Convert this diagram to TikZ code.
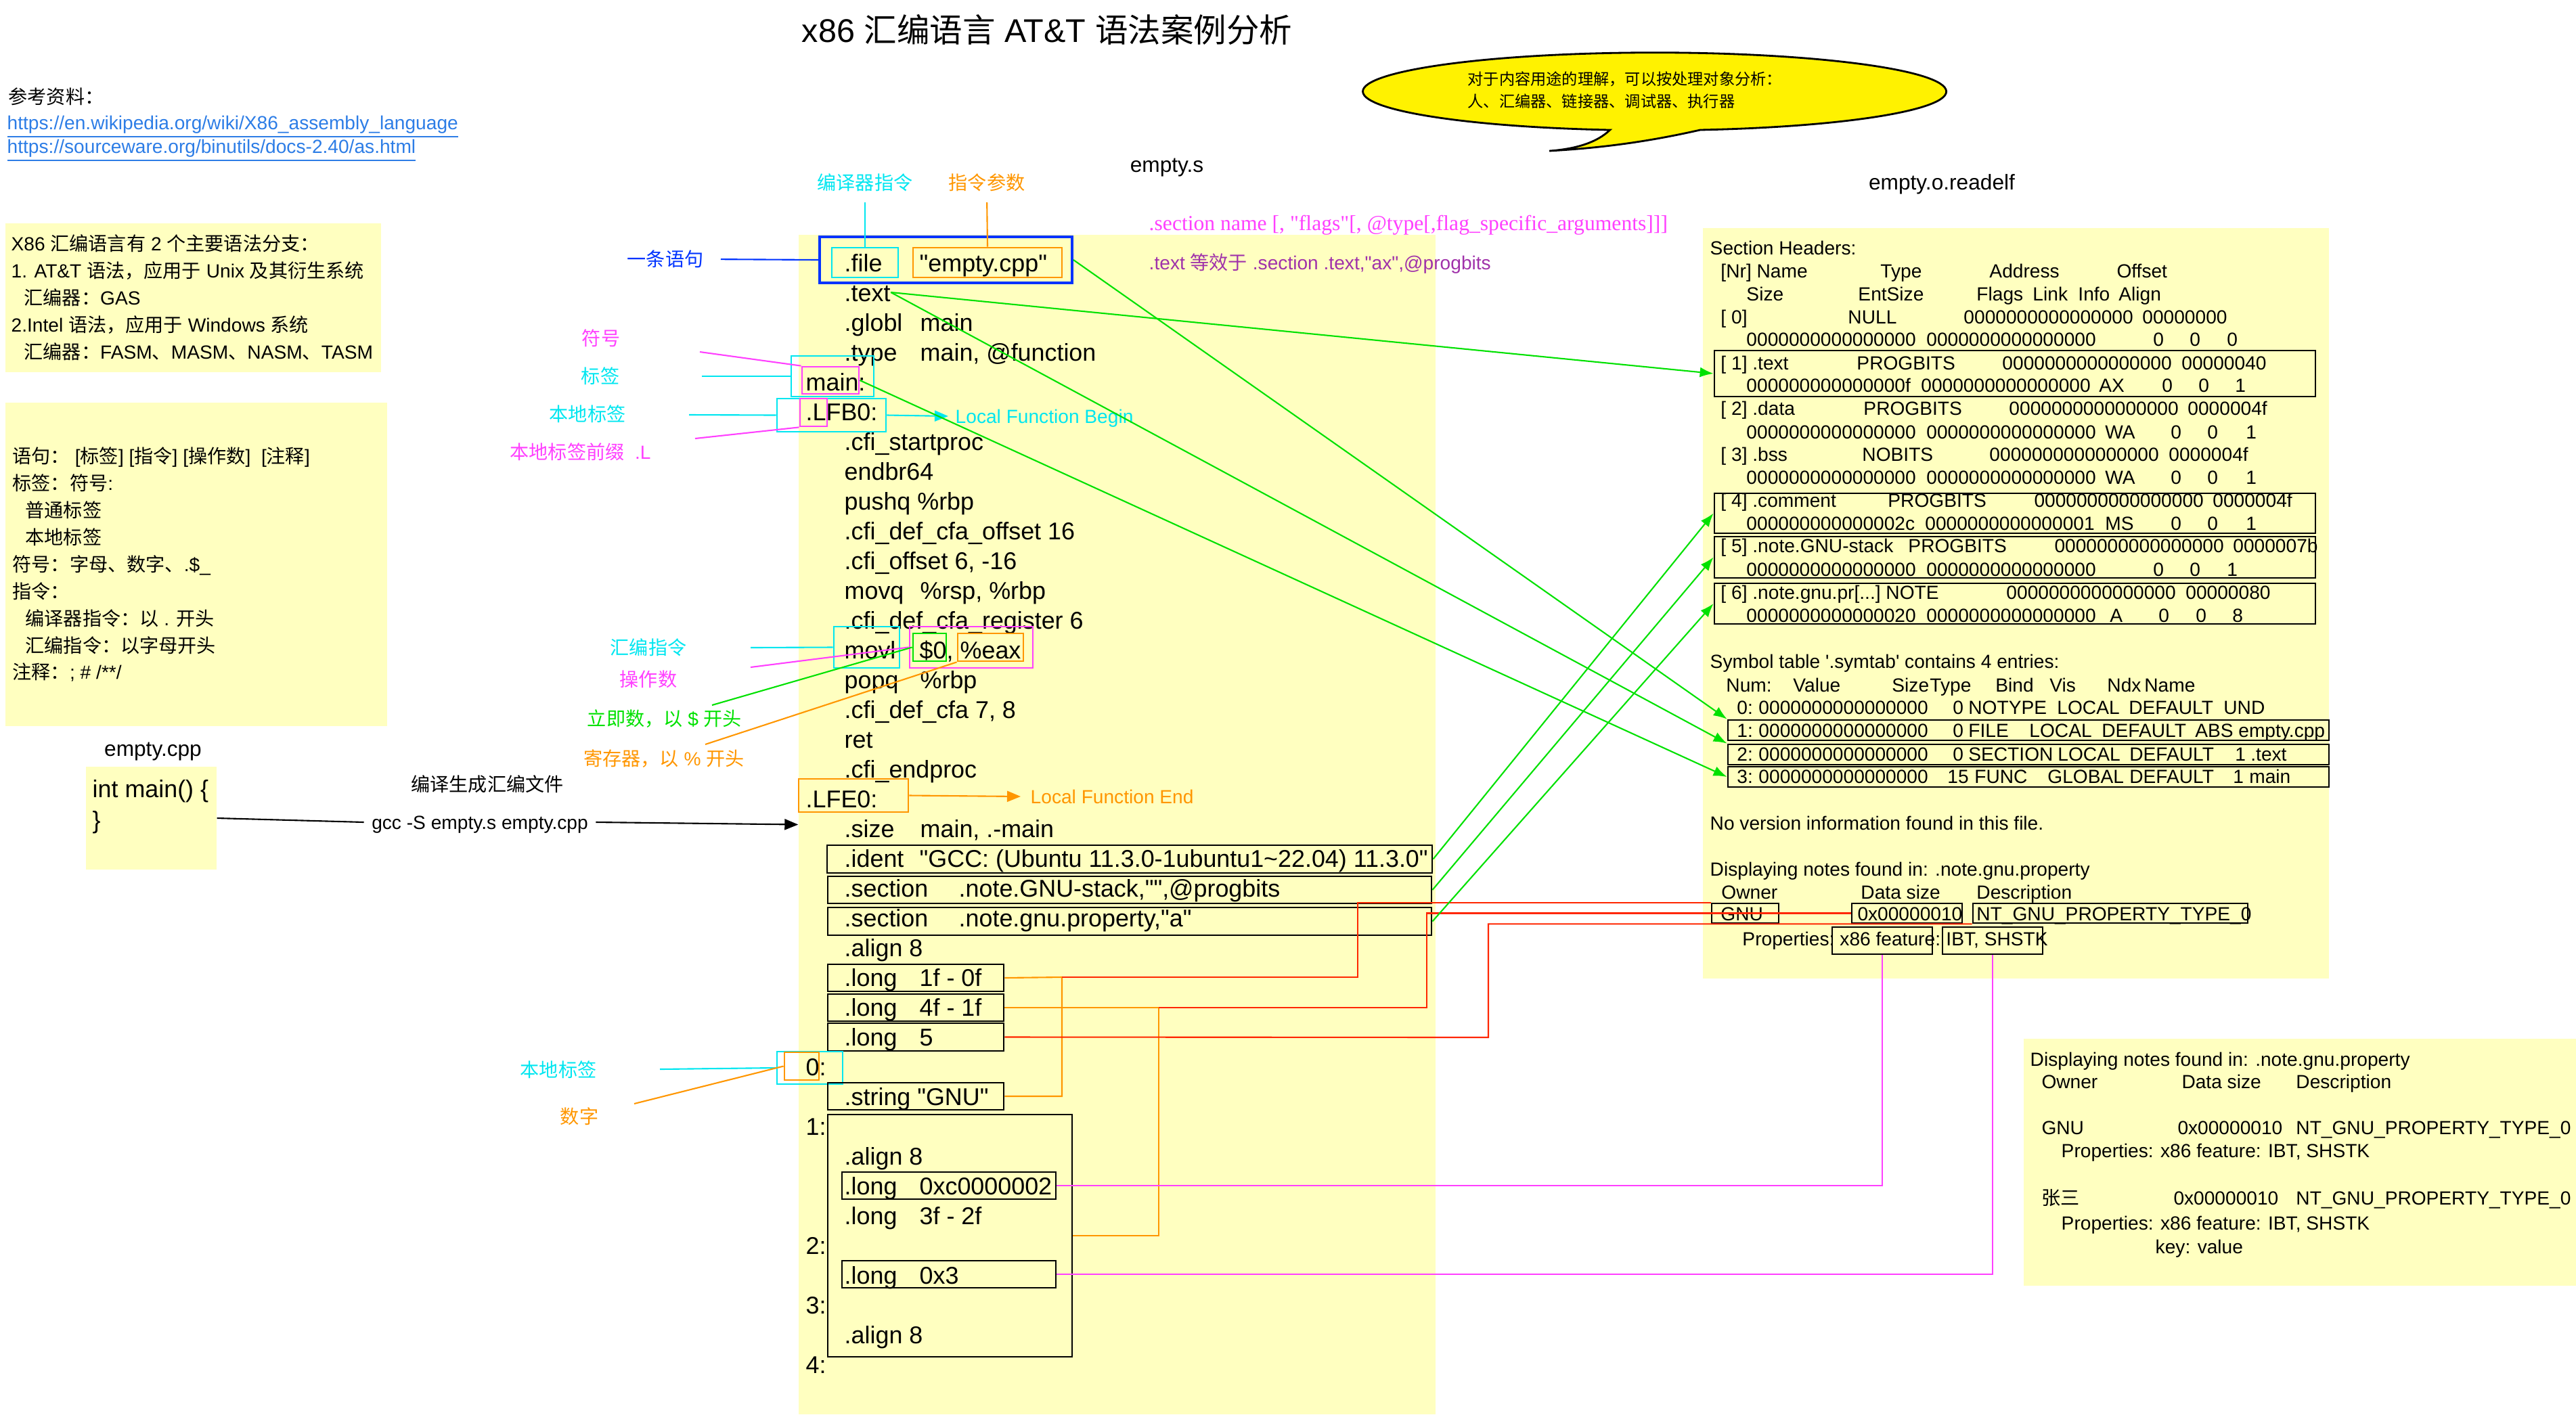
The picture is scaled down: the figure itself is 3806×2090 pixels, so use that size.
\documentclass[tikz,border=0pt]{standalone}
\usepackage{fontspec}
\setmainfont{Liberation Sans}[Ligatures=TeXOff]
\newfontfamily\cjkfont{Noto Sans CJK SC}[Ligatures=TeXOff]
\newfontfamily\seriffont{Liberation Serif}[Ligatures=TeXOff]
\usetikzlibrary{arrows.meta}
\usetikzlibrary{fit}

\XeTeXinterchartokenstate=1
\newcount\cjkcnt
\newcommand\cjkrange[2]{%
  \cjkcnt=#1\relax
  \loop
    \XeTeXcharclass\cjkcnt=7\relax
    \advance\cjkcnt by 1\relax
  \ifnum\cjkcnt<#2\relax
  \repeat}
\cjkrange{"3000}{"3040}
\cjkrange{"4E00}{"A000}
\cjkrange{"FF00}{"FF60}
\XeTeXinterchartoks 0 7 = {\begingroup\cjkfont}
\XeTeXinterchartoks 4095 7 = {\begingroup\cjkfont}
\XeTeXinterchartoks 7 0 = {\endgroup}
\XeTeXinterchartoks 7 4095 = {\endgroup}

\definecolor{cyanc}{RGB}{0,230,240}
\definecolor{magc}{RGB}{255,64,255}
\definecolor{greenc}{RGB}{0,225,0}
\definecolor{orangec}{RGB}{255,150,0}
\definecolor{bluec}{RGB}{0,51,255}
\definecolor{redc}{RGB}{255,38,0}
\definecolor{purplec}{RGB}{160,50,170}
\definecolor{linkc}{RGB}{45,125,230}
\definecolor{notey}{RGB}{255,255,192}

\newdimen\pxu
\pxu=0.01cm
\newcommand\colat[2]{\makebox[0pt][l]{\hspace*{#1\pxu}#2}}

\tikzset{
  t6/.style={inner sep=0pt, anchor=west, font=\fontsize{6.6}{8}\selectfont, text height=5.9pt, text depth=1.2pt},
  t8/.style={inner sep=0pt, font=\fontsize{8}{9.6}\selectfont, text height=7.2pt, text depth=1.4pt},
  t9/.style={inner sep=0pt, font=\fontsize{9}{10.8}\selectfont, text height=8.1pt, text depth=1.6pt},
  code/.style={anchor=west, inner sep=0pt, font=\fontsize{10.2}{12}\selectfont, text height=9.2pt, text depth=1.8pt},
  rd/.style={t8, anchor=west},
  notebg/.style={fill=notey, draw=none, inner sep=0pt},
  cbox/.style={draw, inner sep=0pt, line width=0.8pt},
  conn/.style={line width=0.6pt},
  garrow/.style={conn, greenc, -{Latex[length=0.2cm, width=0.15cm]}},
  tarrow/.style={conn, -{Triangle[length=0.2cm, width=0.16cm]}}
}

\begin{document}
\begin{tikzpicture}[x=0.01cm, y=-0.01cm]
    \useasboundingbox (0,0) rectangle (3806,2090);

    \node[notebg, fit={(8,330) (563,550)}] (introbox) {};
    \node[notebg, fit={(8,595) (572,1073)}] (synbox) {};
    \node[notebg, fit={(127,1133) (320,1285)}] (cppbox) {};
    \node[notebg, fit={(1180,347) (2121,2090)}] (codebox) {};
    \node[notebg, fit={(2516,337) (3441,1446)}] (elfbox) {};
    \node[notebg, fit={(2990,1535) (3806,1900)}] (notebox) {};

    \node[font=\fontsize{13.8}{16}\selectfont, inner sep=0pt] (title) at (1547,44) {x86 汇编语言 AT\&T 语法案例分析};

    \draw[fill=yellow, line width=0.8pt] (2512,192) arc[start angle=81, end angle=-261.2, x radius=431, y radius=57.5]
        .. controls (2360,210) and (2330,220) .. (2289,223)
        .. controls (2380,218) and (2450,206) .. (2512,192) -- cycle;
    \node[t6] (call1) at (2168,117) {对于内容用途的理解，可以按处理对象分析：};
    \node[t6] (call2) at (2168,150) {人、汇编器、链接器、调试器、执行器};

    \node[rd] (refhead) at (12,143) {参考资料：};
    \node[rd, text=linkc] (ref1) at (10,181) {\underline{https://en.wikipedia.org/wiki/X86\_assembly\_language}};
    \node[rd, text=linkc] (ref2) at (10,216) {\underline{https://sourceware.org/binutils/docs-2.40/as.html}};

    \node[rd] (intro1) at (16,360) {X86 汇编语言有 2 个主要语法分支：};
    \node[rd] (intro2) at (16,400) {1. AT\&T 语法，应用于 Unix 及其衍生系统};
    \node[rd] (intro3) at (35,440) {汇编器：GAS};
    \node[rd] (intro4) at (16,480) {2.Intel 语法，应用于 Windows 系统};
    \node[rd] (intro5) at (35,520) {汇编器：FASM、MASM、NASM、TASM};

    \node[rd] (syn1) at (18,674) {语句： [标签] [指令] [操作数]\ \ [注释]};
    \node[rd] (syn2) at (18,714) {标签：符号:};
    \node[rd] (syn3) at (37,754) {普通标签};
    \node[rd] (syn4) at (37,794) {本地标签};
    \node[rd] (syn5) at (18,834) {符号：字母、数字、.\$\_};
    \node[rd] (syn6) at (18,874) {指令：};
    \node[rd] (syn7) at (37,914) {编译器指令：以 . 开头};
    \node[rd] (syn8) at (37,954) {汇编指令：以字母开头};
    \node[rd] (syn9) at (18,993) {注释：; \# /**/};

    \node[t9] (cppname) at (226,1106) {empty.cpp};
    \node[code] (cpp1) at (136,1165) {int main() \{};
    \node[code] (cpp2) at (136,1211) {\}};
    \node[t8] (gen) at (720,1159) {编译生成汇编文件};
    \node[t8, inner sep=0.11cm] (gcc) at (709,1215) {gcc -S empty.s empty.cpp};

    \node[t9] (sname) at (1724,243) {empty.s};
    \node[t9] (ename) at (2869,269) {empty.o.readelf};

    \node[t8, text=cyanc] (dirlbl) at (1278,270) {编译器指令};
    \node[t8, text=orangec] (arglbl) at (1458,270) {指令参数};
    \node[t8, text=bluec] (stmtlbl) at (983,383) {一条语句};
    \node[rd, text=magc, font=\seriffont\fontsize{9}{10.8}\selectfont] (secsyn) at (1697,330) {.section name [, "flags"[, @type[,flag\_specific\_arguments]]]};
    \node[rd, text=purplec] (texteq) at (1697,388) {.text 等效于 .section .text,"ax",@progbits};

    \node[t8, text=magc] (symlbl) at (888,500) {符号};
    \node[t8, text=cyanc] (lbllbl) at (887,556) {标签};
    \node[t8, text=cyanc] (loclbl) at (868,612) {本地标签};
    \node[rd, text=magc] (prelbl) at (753,668) {本地标签前缀\ \ .L};
    \node[t8, text=cyanc] (asmlbl) at (958,957) {汇编指令};
    \node[t8, text=magc] (oplbl) at (958,1004) {操作数};
    \node[t8, text=greenc] (immlbl) at (982,1062) {立即数，以 \$ 开头};
    \node[t8, text=orangec] (reglbl) at (981,1121) {寄存器，以 \% 开头};
    \node[t8, text=cyanc] (loc2lbl) at (825,1581) {本地标签};
    \node[t8, text=orangec] (numlbl) at (856,1650) {数字};

    \node[code] (c0) at (1247,388) {.file};
    \node[code] (c0b) at (1358,388) {"empty.cpp"};
    \node[code] (c1) at (1247,432) {.text};
    \node[code] (c2) at (1247,476) {.globl};
    \node[code] (c2b) at (1359,476) {main};
    \node[code] (c3) at (1247,520) {.type};
    \node[code] (c3b) at (1359,520) {main, @function};
    \node[code] (c4) at (1190,564) {main:};
    \node[code] (c5) at (1190,608) {.LFB0:};
    \node[code] (c6) at (1247,652) {.cfi\_startproc};
    \node[code] (c7) at (1247,696) {endbr64};
    \node[code] (c8) at (1247,740) {pushq \%rbp};
    \node[code] (c9) at (1247,784) {.cfi\_def\_cfa\_offset 16};
    \node[code] (c10) at (1247,828) {.cfi\_offset 6, -16};
    \node[code] (c11) at (1247,872) {movq};
    \node[code] (c11b) at (1359,872) {\%rsp, \%rbp};
    \node[code] (c12) at (1247,916) {.cfi\_def\_cfa\_register 6};
    \node[code] (c13) at (1247,960) {movl};
    \node[code] (c13b) at (1358,960) {\$0,};
    \node[code] (c13c) at (1418,960) {\%eax};
    \node[code] (c14) at (1247,1004) {popq};
    \node[code] (c14b) at (1359,1004) {\%rbp};
    \node[code] (c15) at (1247,1048) {.cfi\_def\_cfa 7, 8};
    \node[code] (c16) at (1247,1092) {ret};
    \node[code] (c17) at (1247,1136) {.cfi\_endproc};
    \node[code] (c18) at (1190,1180) {.LFE0:};
    \node[code] (c19) at (1247,1224) {.size};
    \node[code] (c19b) at (1359,1224) {main, .-main};
    \node[code] (c20) at (1247,1268) {.ident};
    \node[code] (c20b) at (1358,1268) {"GCC: (Ubuntu 11.3.0-1ubuntu1\textasciitilde 22.04) 11.3.0"};
    \node[code] (c21) at (1247,1312) {.section};
    \node[code] (c21b) at (1416,1312) {.note.GNU-stack,"",@progbits};
    \node[code] (c22) at (1247,1356) {.section};
    \node[code] (c22b) at (1416,1356) {.note.gnu.property,"a"};
    \node[code] (c23) at (1247,1400) {.align 8};
    \node[code] (c24) at (1247,1444) {.long};
    \node[code] (c24b) at (1358,1444) {1f - 0f};
    \node[code] (c25) at (1247,1488) {.long};
    \node[code] (c25b) at (1358,1488) {4f - 1f};
    \node[code] (c26) at (1247,1532) {.long};
    \node[code] (c26b) at (1358,1532) {5};
    \node[code] (c27) at (1190,1576) {0:};
    \node[code] (c28) at (1247,1620) {.string "GNU"};
    \node[code] (c29) at (1190,1664) {1:};
    \node[code] (c30) at (1247,1708) {.align 8};
    \node[code] (c31) at (1247,1752) {.long};
    \node[code] (c31b) at (1358,1752) {0xc0000002};
    \node[code] (c32) at (1247,1796) {.long};
    \node[code] (c32b) at (1358,1796) {3f - 2f};
    \node[code] (c33) at (1190,1840) {2:};
    \node[code] (c34) at (1247,1884) {.long};
    \node[code] (c34b) at (1358,1884) {0x3};
    \node[code] (c35) at (1190,1928) {3:};
    \node[code] (c36) at (1247,1972) {.align 8};
    \node[code] (c37) at (1190,2016) {4:};

    \node[cbox, draw=bluec, line width=1.1pt, fit={(1211,350) (1584,418)}] (bluebox) {};
    \node[cbox, draw=cyanc, fit={(1229,366) (1327,410)}] (filebox) {};
    \node[cbox, draw=orangec, fit={(1349,366) (1569,410)}] (argbox) {};
    \node[cbox, draw=cyanc, fit={(1169,526) (1291,586)}] (maincyan) {};
    \node[cbox, draw=magc, fit={(1185,542) (1269,582)}] (mainpink) {};
    \node[cbox, draw=cyanc, fit={(1148,589) (1309,638)}] (lfbcyan) {};
    \node[cbox, draw=magc, fit={(1182,589) (1222,630)}] (lpink) {};
    \node[cbox, draw=cyanc, fit={(1232,926) (1329,987)}] (movlbox) {};
    \node[cbox, draw=magc, fit={(1344,926) (1526,987)}] (opbox) {};
    \node[cbox, draw=greenc, fit={(1349,936) (1398,977)}] (immbox) {};
    \node[cbox, draw=orangec, fit={(1415,936) (1512,977)}] (regbox) {};
    \node[cbox, draw=orangec, fit={(1180,1151) (1342,1200)}] (lfebox) {};
    \node[cbox, fit={(1222,1249) (2116,1290)}] (identbox) {};
    \node[cbox, fit={(1223,1295) (2115,1335)}] (sec21box) {};
    \node[cbox, fit={(1223,1341) (2115,1382)}] (sec22box) {};
    \node[cbox, fit={(1223,1425) (1483,1465)}] (long1box) {};
    \node[cbox, fit={(1223,1469) (1483,1509)}] (long2box) {};
    \node[cbox, fit={(1223,1512) (1483,1553)}] (long3box) {};
    \node[cbox, draw=cyanc, fit={(1148,1554) (1245,1602)}] (zerocyan) {};
    \node[cbox, draw=orangec, fit={(1159,1555) (1210,1596)}] (zeroorange) {};
    \node[cbox, fit={(1223,1600) (1483,1640)}] (strbox) {};
    \node[cbox, fit={(1223,1647) (1584,2005)}] (descbox) {};
    \node[cbox, fit={(1244,1732) (1560,1772)}] (prop1box) {};
    \node[cbox, fit={(1244,1863) (1560,1903)}] (prop2box) {};

    \node[t8, text=cyanc, anchor=west, inner xsep=0.1cm] (lfbtxt) at (1401,615) {Local Function Begin};
    \node[t8, text=orangec, anchor=west, inner xsep=0.14cm] (lfetxt) at (1508,1177) {Local Function End};

    \node[rd] (sh) at (2526,366) {Section Headers:};
    \node[rd] (shh1) at (2540,400) {\colat{0}{[Nr] Name}\colat{236}{Type}\colat{397}{Address}\colat{585}{Offset}};
    \node[rd] (shh2) at (2578,434) {\colat{0}{Size}\colat{165}{EntSize}\colat{340}{Flags}\colat{423}{Link}\colat{490}{Info}\colat{550}{Align}};
    \node[rd] (sh0a) at (2540,468) {\colat{0}{[ 0]}\colat{188}{NULL}\colat{359}{0000000000000000}\colat{623}{00000000}};
    \node[rd] (sh0b) at (2578,501) {\colat{0}{0000000000000000}\colat{266}{0000000000000000}\colat{601}{0}\colat{655}{0}\colat{710}{0}};
    \node[rd] (sh1a) at (2540,536) {\colat{0}{[ 1] .text}\colat{201}{PROGBITS}\colat{416}{0000000000000000}\colat{681}{00000040}};
    \node[rd] (sh1b) at (2578,569) {\colat{0}{000000000000000f}\colat{258}{0000000000000000}\colat{521}{AX}\colat{614}{0}\colat{668}{0}\colat{722}{1}};
    \node[rd] (sh2a) at (2540,603) {\colat{0}{[ 2] .data}\colat{211}{PROGBITS}\colat{426}{0000000000000000}\colat{690}{0000004f}};
    \node[rd] (sh2b) at (2578,638) {\colat{0}{0000000000000000}\colat{266}{0000000000000000}\colat{530}{WA}\colat{627}{0}\colat{681}{0}\colat{738}{1}};
    \node[rd] (sh3a) at (2540,671) {\colat{0}{[ 3] .bss}\colat{209}{NOBITS}\colat{397}{0000000000000000}\colat{662}{0000004f}};
    \node[rd] (sh3b) at (2578,705) {\colat{0}{0000000000000000}\colat{266}{0000000000000000}\colat{530}{WA}\colat{627}{0}\colat{681}{0}\colat{738}{1}};
    \node[rd] (sh4a) at (2540,739) {\colat{0}{[ 4] .comment}\colat{247}{PROGBITS}\colat{463}{0000000000000000}\colat{727}{0000004f}};
    \node[rd] (sh4b) at (2578,773) {\colat{0}{000000000000002c}\colat{264}{0000000000000001}\colat{530}{MS}\colat{627}{0}\colat{681}{0}\colat{738}{1}};
    \node[rd] (sh5a) at (2540,806) {\colat{0}{[ 5] .note.GNU-stack}\colat{277}{PROGBITS}\colat{493}{0000000000000000}\colat{757}{0000007b}};
    \node[rd] (sh5b) at (2578,841) {\colat{0}{0000000000000000}\colat{266}{0000000000000000}\colat{601}{0}\colat{655}{0}\colat{710}{1}};
    \node[rd] (sh6a) at (2540,875) {\colat{0}{[ 6] .note.gnu.pr[...]}\colat{244}{NOTE}\colat{422}{0000000000000000}\colat{687}{00000080}};
    \node[rd] (sh6b) at (2578,909) {\colat{0}{0000000000000020}\colat{266}{0000000000000000}\colat{537}{A}\colat{609}{0}\colat{664}{0}\colat{718}{8}};

    \node[rd] (st) at (2526,977) {Symbol table \textquotesingle.symtab\textquotesingle{} contains 4 entries:};
    \node[rd] (sth) at (2548,1012) {\colat{0}{Num:}\colat{99}{Value}\colat{245}{Size}\colat{301}{Type}\colat{398}{Bind}\colat{478}{Vis}\colat{563}{Ndx}\colat{618}{Name}};
    \node[rd] (st0) at (2564,1045) {\colat{0}{0:}\colat{32}{0000000000000000}\colat{319}{0}\colat{342}{NOTYPE}\colat{473}{LOCAL}\colat{579}{DEFAULT}\colat{719}{UND}};
    \node[rd] (st1) at (2564,1079) {\colat{0}{1:}\colat{32}{0000000000000000}\colat{319}{0}\colat{342}{FILE}\colat{432}{LOCAL}\colat{539}{DEFAULT}\colat{677}{ABS}\colat{741}{empty.cpp}};
    \node[rd] (st2) at (2564,1114) {\colat{0}{2:}\colat{32}{0000000000000000}\colat{319}{0}\colat{342}{SECTION}\colat{474}{LOCAL}\colat{580}{DEFAULT}\colat{736}{1}\colat{759}{.text}};
    \node[rd] (st3) at (2564,1147) {\colat{0}{3:}\colat{32}{0000000000000000}\colat{311}{15}\colat{351}{FUNC}\colat{459}{GLOBAL}\colat{580}{DEFAULT}\colat{733}{1}\colat{757}{main}};

    \node[rd] (nover) at (2526,1216) {No version information found in this file.};
    \node[rd] (disp) at (2526,1284) {Displaying notes found in: .note.gnu.property};
    \node[rd] (noteh) at (2541,1318) {\colat{0}{Owner}\colat{206}{Data size}\colat{377}{Description}};
    \node[rd] (note1) at (2540,1350) {\colat{0}{GNU}\colat{202}{0x00000010}\colat{378}{NT\_GNU\_PROPERTY\_TYPE\_0}};
    \node[rd] (prop) at (2572,1387) {\colat{0}{Properties:}\colat{144}{x86 feature}\colat{285}{:}\colat{301}{IBT, SHSTK}};

    \node[cbox, fit={(2533,518) (3421,586)}] (sec1box) {};
    \node[cbox, fit={(2533,729) (3421,788)}] (sec4box) {};
    \node[cbox, fit={(2533,793) (3421,854)}] (sec5box) {};
    \node[cbox, fit={(2533,862) (3421,922)}] (sec6box) {};
    \node[cbox, fit={(2553,1064) (3441,1094)}] (sym1box) {};
    \node[cbox, fit={(2553,1100) (3441,1130)}] (sym2box) {};
    \node[cbox, fit={(2553,1133) (3441,1163)}] (sym3box) {};
    \node[cbox, fit={(2529,1335) (2628,1364)}] (gnubox) {};
    \node[cbox, fit={(2736,1335) (2899,1364)}] (szbox) {};
    \node[cbox, fit={(2915,1335) (3321,1364)}] (ntbox) {};
    \node[cbox, fit={(2707,1370) (2855,1410)}] (featbox) {};
    \node[cbox, fit={(2870,1370) (3018,1410)}] (ibtbox) {};

    \node[rd] (n2disp) at (2999,1565) {Displaying notes found in: .note.gnu.property};
    \node[rd] (n2h) at (3014,1598) {\colat{0}{Owner}\colat{207}{Data size}\colat{376}{Description}};
    \node[rd] (n2a) at (3014,1666) {\colat{0}{GNU}\colat{201}{0x00000010}\colat{376}{NT\_GNU\_PROPERTY\_TYPE\_0}};
    \node[rd] (n2b) at (3045,1700) {Properties: x86 feature: IBT, SHSTK};
    \node[rd] (n2c) at (3014,1770) {\colat{0}{张三}\colat{195}{0x00000010}\colat{376}{NT\_GNU\_PROPERTY\_TYPE\_0}};
    \node[rd] (n2d) at (3045,1807) {Properties: x86 feature: IBT, SHSTK};
    \node[rd] (n2e) at (3184,1842) {key: value};

    \coordinate (symend) at (1034,520);
    \coordinate (lblend) at (1037,556);
    \coordinate (locend) at (1018,613);
    \coordinate (preend) at (1027,648);
    \coordinate (asmend) at (1109,957);
    \coordinate (opend) at (1109,986);
    \coordinate (immend) at (1052,1042);
    \coordinate (regend) at (1042,1100);
    \coordinate (loc2end) at (975,1580);
    \coordinate (numend) at (937,1631);
    \coordinate (j1) at (1569,1444);
    \coordinate (j2) at (1712,1489);

    \draw[conn, cyanc, shorten <=0.13cm] (dirlbl.south) -- (filebox.north);
    \draw[conn, orangec, shorten <=0.13cm] (arglbl.south) -- (argbox.north);
    \draw[conn, bluec, shorten <=0.25cm] (stmtlbl.east) -- (bluebox.west);
    \draw[conn, magc] (symend) -- (mainpink.north west);
    \draw[conn, cyanc] (lblend) -- (maincyan.west);
    \draw[conn, cyanc] (locend) -- (lfbcyan.west);
    \draw[conn, magc] (preend) -- (lpink.south west);
    \draw[conn, cyanc] (asmend) -- (movlbox.west);
    \draw[conn, magc] (opend) -- (opbox.west);
    \draw[conn, greenc] (immend) -- (immbox.west);
    \draw[conn, orangec] (regend) -- (regbox.south west);
    \draw[conn, cyanc] (loc2end) -- (zerocyan.west);
    \draw[conn, orangec] (numend) -- (zeroorange.west);

    \draw[tarrow, cyanc] (lfbcyan.east) -- (lfbtxt.west);
    \draw[tarrow, orangec] (lfebox.east) -- (lfetxt.west);
    \draw[conn] (cppbox.east) -- (gcc.west);
    \draw[tarrow] (gcc.east) -- (codebox.west);

    \draw[conn, orangec] (long1box.east) -- (j1) |- (strbox.east);
    \draw[conn, redc] (j1) -- (2006,1444) |- (gnubox.north west);
    \draw[conn, orangec] (long2box.east) -- (j2) |- (descbox.east);
    \draw[conn, redc] (j2) -- (2108,1489) |- (szbox.west);
    \draw[conn, redc] (long3box.east) -- (2199,1533) |- (ntbox.south west);
    \draw[conn, magc] (prop1box.east) -| (featbox.south);
    \draw[conn, magc] (prop2box.east) -| (ibtbox.south);

    \draw[garrow] (c1.east) -- (sec1box.west);
    \draw[garrow] (c1.east) -- (sym2box.north west);
    \draw[garrow] (bluebox.east) -- (sym1box.north west);
    \draw[garrow] (mainpink.east) -- (sym3box.west);
    \draw[garrow] (identbox.east) -- (sec4box.west);
    \draw[garrow] (sec21box.east) -- (sec5box.west);
    \draw[garrow] (sec22box.east) -- (sec6box.west);
\end{tikzpicture}
\end{document}
